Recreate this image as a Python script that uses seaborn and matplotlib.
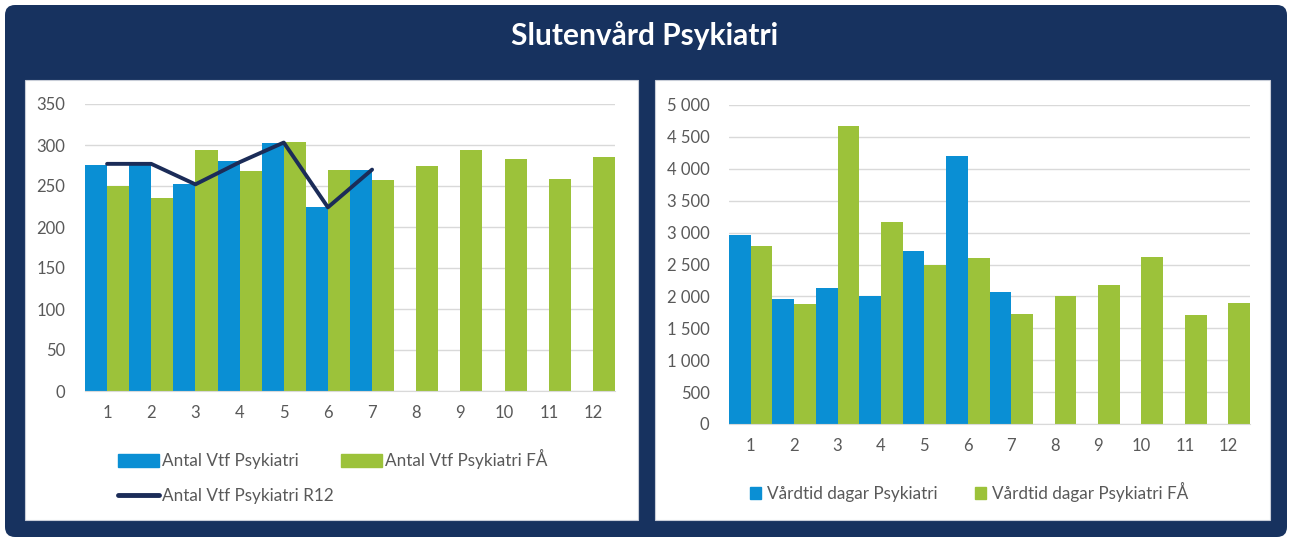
import matplotlib
matplotlib.use("Agg")
import matplotlib.pyplot as plt
from matplotlib.patches import FancyBboxPatch, Rectangle, Patch
from matplotlib.lines import Line2D
from matplotlib.ticker import FuncFormatter, MultipleLocator
import numpy as np
import pandas as pd
import seaborn as sns

# --- data ---
months = [str(m) for m in range(1, 13)]
vtf = [276, 276, 253, 281, 303, 225, 269]
vtf_fa = [250, 235, 294, 268, 304, 269, 257, 274, 294, 283, 259, 285]
vtf_r12 = [277, 277, 252, 279, 303, 224, 270]
vardtid = [2955, 1961, 2134, 2003, 2714, 4205, 2071]
vardtid_fa = [2793, 1883, 4676, 3169, 2500, 2605, 1726, 2003, 2181, 2620, 1710, 1898]

title = "Slutenvård Psykiatri"
left_names = ["Antal Vtf Psykiatri", "Antal Vtf Psykiatri FÅ", "Antal Vtf Psykiatri R12"]
right_names = ["Vårdtid dagar Psykiatri", "Vårdtid dagar Psykiatri FÅ"]

BLUE = "#0a8fd4"
GREEN = "#9cc23a"
NAVY = "#17325f"
LINE = "#1b2c58"
GRID = "#d9d9d9"
TXT = "#595959"

sns.set_style("white")
plt.rcParams["font.family"] = ["Lato", "DejaVu Sans"]

W, H = 1293, 542
fig = plt.figure(figsize=(W / 100, H / 100), dpi=100)
fig.patch.set_facecolor("white")


def px_box(x0, y0, x1, y1):
    # pixel box (top-left origin) -> inches (bottom-left origin)
    return x0 / 100, (H - y1) / 100, (x1 - x0) / 100, (y1 - y0) / 100


x, y, w, h = px_box(5, 5, 1287, 537)
fig.patches.append(FancyBboxPatch((x, y), w, h, boxstyle="round,pad=0,rounding_size=0.1",
                                  transform=fig.dpi_scale_trans, facecolor=NAVY,
                                  edgecolor="none", zorder=-3))
for box in [(25, 80, 638, 520), (655, 80, 1270, 520)]:
    x, y, w, h = px_box(*box)
    fig.patches.append(Rectangle((x, y), w, h, transform=fig.dpi_scale_trans,
                                 facecolor="white", edgecolor="#c8cdd8", lw=0.8, zorder=-2))

fig.text(645 / W, 1 - 36 / H, title, color="white", fontsize=21.5, fontweight="bold",
         ha="center", va="center")


def add_ax(x0, y0, x1, y1):
    return fig.add_axes([x0 / W, 1 - y1 / H, (x1 - x0) / W, (y1 - y0) / H])


def style(ax, ymax, step, fmt=None):
    ax.set_xlim(-0.5, 11.5)
    ax.set_ylim(0, ymax)
    ax.yaxis.set_major_locator(MultipleLocator(step))
    if fmt:
        ax.yaxis.set_major_formatter(FuncFormatter(fmt))
    ax.grid(axis="y", color=GRID, lw=1)
    ax.set_axisbelow(True)
    for s in ["top", "right", "left"]:
        ax.spines[s].set_visible(False)
    ax.spines["bottom"].set_color(GRID)
    ax.tick_params(length=0, labelsize=12, labelcolor=TXT)
    ax.tick_params(axis="x", pad=10)
    ax.tick_params(axis="y", pad=14)
    ax.set_xlabel("")
    ax.set_ylabel("")
    ax.set_facecolor("none")


# --- left chart ---
left_df = pd.concat([
    pd.DataFrame({"Månad": months[:len(vtf)], "Värde": vtf, "Serie": left_names[0]}),
    pd.DataFrame({"Månad": months, "Värde": vtf_fa, "Serie": left_names[1]}),
])
ax1 = add_ax(85, 104, 615, 391)
sns.barplot(data=left_df, x="Månad", y="Värde", hue="Serie", order=months,
            hue_order=left_names[:2], palette=[BLUE, GREEN], width=1.0, linewidth=0,
            saturation=1, errorbar=None, legend=False, ax=ax1)
sns.lineplot(x=np.arange(len(vtf_r12)), y=vtf_r12, color=LINE, lw=2.8, ax=ax1)
style(ax1, 350, 50)

h1 = [Patch(color=BLUE), Line2D([], [], color=LINE, lw=3.5), Patch(color=GREEN)]
l1 = [left_names[0], left_names[2], left_names[1]]
fig.legend(h1, l1, loc="upper left", bbox_to_anchor=(118 / W, 1 - 449 / H), ncol=2,
           frameon=False, fontsize=12.3, labelcolor=TXT, handlelength=2.4, handleheight=0.8,
           handletextpad=0.2, columnspacing=0.4, labelspacing=1.1, borderpad=0,
           borderaxespad=0)

# --- right chart ---
right_df = pd.concat([
    pd.DataFrame({"Månad": months[:len(vardtid)], "Värde": vardtid, "Serie": right_names[0]}),
    pd.DataFrame({"Månad": months, "Värde": vardtid_fa, "Serie": right_names[1]}),
])
ax2 = add_ax(729, 105, 1250, 424)
sns.barplot(data=right_df, x="Månad", y="Värde", hue="Serie", order=months,
            hue_order=right_names, palette=[BLUE, GREEN], width=1.0, linewidth=0,
            saturation=1, errorbar=None, legend=False, ax=ax2)
style(ax2, 5000, 500, lambda v, p: f"{int(v):,}".replace(",", " "))

h2 = [Patch(color=BLUE), Patch(color=GREEN)]
fig.legend(h2, right_names, loc="upper left", bbox_to_anchor=(750 / W, 1 - 482 / H), ncol=2,
           frameon=False, fontsize=12.3, labelcolor=TXT, handlelength=0.65, handleheight=0.65,
           handletextpad=0.35, columnspacing=2.2, borderpad=0, borderaxespad=0)

fig.savefig("out.png", dpi=100)
